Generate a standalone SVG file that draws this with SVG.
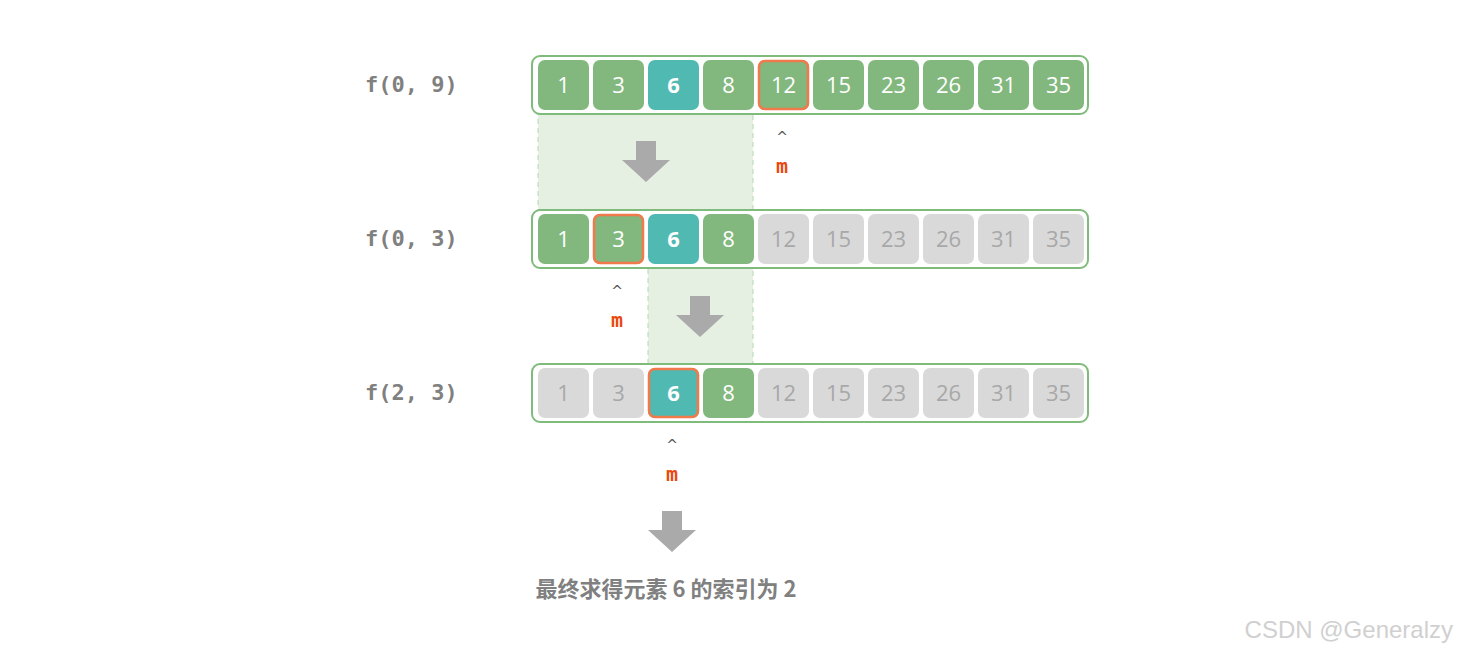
<svg xmlns="http://www.w3.org/2000/svg" width="1458" height="655" viewBox="0 0 1458 655">
<style>
.c{fill:#82B87E}.t{fill:#50B9B1}.g{fill:#D9D9D9}
.n{font-family:"Open Sans","Liberation Sans",sans-serif;font-size:22px;fill:#fff;text-anchor:middle}
.ng{fill:#A8A8A8}.b{font-weight:bold}
.o{fill:none;stroke:#7FBB7B;stroke-width:2}
.h{fill:none;stroke:#F07A4C;stroke-width:2.5}
.lbl{font-family:"DejaVu Sans Mono","Liberation Mono",monospace;font-weight:bold;font-size:22px;fill:#808080}
.m{font-family:"DejaVu Sans Mono","Liberation Mono",monospace;font-weight:bold;font-size:20px;fill:#E8490F;text-anchor:middle}
.p{font-family:"DejaVu Sans",sans-serif;font-size:14px;fill:#555;text-anchor:middle}
.sh{fill:#E5F0E3;stroke:#B5D8B2;stroke-dasharray:5 4;stroke-width:1}
.ar{fill:#AAAAAA}
</style>
<rect width="1458" height="655" fill="#fff"/>
<g id="shade"><rect class="sh" x="538" y="114" width="215" height="96"/><rect class="sh" x="648" y="268" width="105" height="96"/></g>
<g id="row1">
<text class="lbl" x="365" y="92">f(0, 9)</text>
<rect class="o" x="532" y="56" width="556" height="58" rx="8"/>
<rect class="c" x="538" y="60" width="51" height="50" rx="7"/><text class="n" x="563.5" y="93">1</text>
<rect class="c" x="593" y="60" width="51" height="50" rx="7"/><text class="n" x="618.5" y="93">3</text>
<rect class="t" x="648" y="60" width="51" height="50" rx="7"/><text class="n b" x="673.5" y="93">6</text>
<rect class="c" x="703" y="60" width="51" height="50" rx="7"/><text class="n" x="728.5" y="93">8</text>
<rect class="c" x="758" y="60" width="51" height="50" rx="7"/><rect class="h" x="759" y="61" width="49" height="48" rx="6"/><text class="n" x="783.5" y="93">12</text>
<rect class="c" x="813" y="60" width="51" height="50" rx="7"/><text class="n" x="838.5" y="93">15</text>
<rect class="c" x="868" y="60" width="51" height="50" rx="7"/><text class="n" x="893.5" y="93">23</text>
<rect class="c" x="923" y="60" width="51" height="50" rx="7"/><text class="n" x="948.5" y="93">26</text>
<rect class="c" x="978" y="60" width="51" height="50" rx="7"/><text class="n" x="1003.5" y="93">31</text>
<rect class="c" x="1033" y="60" width="51" height="50" rx="7"/><text class="n" x="1058.5" y="93">35</text>
</g>
<g id="row2">
<text class="lbl" x="365" y="246">f(0, 3)</text>
<rect class="o" x="532" y="210" width="556" height="58" rx="8"/>
<rect class="c" x="538" y="214" width="51" height="50" rx="7"/><text class="n" x="563.5" y="247">1</text>
<rect class="c" x="593" y="214" width="51" height="50" rx="7"/><rect class="h" x="594" y="215" width="49" height="48" rx="6"/><text class="n" x="618.5" y="247">3</text>
<rect class="t" x="648" y="214" width="51" height="50" rx="7"/><text class="n b" x="673.5" y="247">6</text>
<rect class="c" x="703" y="214" width="51" height="50" rx="7"/><text class="n" x="728.5" y="247">8</text>
<rect class="g" x="758" y="214" width="51" height="50" rx="7"/><text class="n ng" x="783.5" y="247">12</text>
<rect class="g" x="813" y="214" width="51" height="50" rx="7"/><text class="n ng" x="838.5" y="247">15</text>
<rect class="g" x="868" y="214" width="51" height="50" rx="7"/><text class="n ng" x="893.5" y="247">23</text>
<rect class="g" x="923" y="214" width="51" height="50" rx="7"/><text class="n ng" x="948.5" y="247">26</text>
<rect class="g" x="978" y="214" width="51" height="50" rx="7"/><text class="n ng" x="1003.5" y="247">31</text>
<rect class="g" x="1033" y="214" width="51" height="50" rx="7"/><text class="n ng" x="1058.5" y="247">35</text>
</g>
<g id="row3">
<text class="lbl" x="365" y="400">f(2, 3)</text>
<rect class="o" x="532" y="364" width="556" height="58" rx="8"/>
<rect class="g" x="538" y="368" width="51" height="50" rx="7"/><text class="n ng" x="563.5" y="401">1</text>
<rect class="g" x="593" y="368" width="51" height="50" rx="7"/><text class="n ng" x="618.5" y="401">3</text>
<rect class="t" x="648" y="368" width="51" height="50" rx="7"/><rect class="h" x="649" y="369" width="49" height="48" rx="6"/><text class="n b" x="673.5" y="401">6</text>
<rect class="c" x="703" y="368" width="51" height="50" rx="7"/><text class="n" x="728.5" y="401">8</text>
<rect class="g" x="758" y="368" width="51" height="50" rx="7"/><text class="n ng" x="783.5" y="401">12</text>
<rect class="g" x="813" y="368" width="51" height="50" rx="7"/><text class="n ng" x="838.5" y="401">15</text>
<rect class="g" x="868" y="368" width="51" height="50" rx="7"/><text class="n ng" x="893.5" y="401">23</text>
<rect class="g" x="923" y="368" width="51" height="50" rx="7"/><text class="n ng" x="948.5" y="401">26</text>
<rect class="g" x="978" y="368" width="51" height="50" rx="7"/><text class="n ng" x="1003.5" y="401">31</text>
<rect class="g" x="1033" y="368" width="51" height="50" rx="7"/><text class="n ng" x="1058.5" y="401">35</text>
</g>
<g id="connectors">
<polygon class="ar" points="636,141 656,141 656,160 670,160 646,182 622,160 636,160"/>
<polygon class="ar" points="690,296 710,296 710,315 724,315 700,337 676,315 690,315"/>
<polygon class="ar" points="662,511 682,511 682,530 696,530 672,552 648,530 662,530"/>
<text class="p" x="782" y="142">^</text><text class="m" x="782" y="173">m</text>
<text class="p" x="617" y="296">^</text><text class="m" x="617" y="327">m</text>
<text class="p" x="672" y="450">^</text><text class="m" x="672" y="481">m</text>
</g>
<text x="666" y="597" text-anchor="middle" font-family="'Noto Sans CJK SC',sans-serif" font-weight="bold" font-size="22" fill="#808080" xml:space="preserve">最终求得元素 6 的索引为 2</text>
<text x="1453" y="638" text-anchor="end" font-family="'Liberation Sans',sans-serif" font-size="24" fill="#D0D0D0">CSDN @Generalzy</text>
</svg>
